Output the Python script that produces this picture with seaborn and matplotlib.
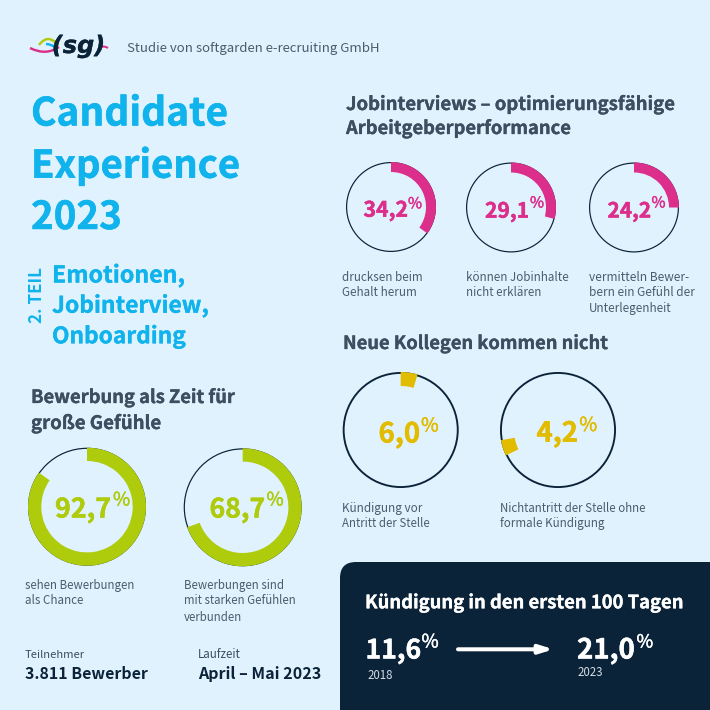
import matplotlib
matplotlib.use("Agg")
import matplotlib.pyplot as plt
import matplotlib.patheffects as pe
import seaborn as sns
from matplotlib.patches import Circle, FancyBboxPatch, PathPatch
from matplotlib.path import Path

BG = "#E0F2FE"; NAVY = "#0B2338"; CYAN = "#10B3EC"; PINK = "#DC2F8C"
YELLOW = "#E2BC00"; GREEN = "#AECB0C"; HEAD = "#3C4E5F"; BODY = "#4D5C6B"

sns.set_theme(style="white", rc={"figure.facecolor": BG, "axes.facecolor": BG})
plt.rcParams["font.family"] = ["Noto Sans CJK SC", "DejaVu Sans"]

# share of the ring as drawn in the picture (percent), start angle clockwise from top
green_labels = ["92,7", "68,7"]
green_arcs = [84.8, 69.5]
pink_labels = ["34,2", "29,1", "24,2"]
pink_arcs = [35.0, 29.1, 25.0]
yellow_labels = ["6,0", "4,2"]
yellow_arcs = [4.7, 4.4]
yellow_starts = [0, 244]

fig = plt.figure(figsize=(7.1, 7.1), dpi=100)
main = fig.add_axes([0, 0, 1, 1])
main.set_xlim(0, 710); main.set_ylim(710, 0); main.axis("off")
rend = fig.canvas.get_renderer()


def T(x, y, s, px, color=BODY, weight="normal", right=None, stroke=None, **kw):
    t = main.text(x, y, s, fontsize=px * 0.72, color=color, weight=weight,
                  va=kw.pop("va", "baseline"), ha=kw.pop("ha", "left"), **kw)
    if right is not None:
        w = t.get_window_extent(rend).width
        t.set_fontsize(t.get_fontsize() * (right - x) / w)
    if stroke is None and weight == "bold":
        stroke = 0.2
    if stroke:
        t.set_path_effects([pe.withStroke(linewidth=stroke, foreground=color)])
    return t


def donut(cx, cy, R, ring, arc, color, start=0, lw=1.2):
    ax = fig.add_axes([(cx - R) / 710, 1 - (cy + R) / 710, 2 * R / 710, 2 * R / 710])
    ax.add_patch(Circle((0, 0), 1 - lw / 2 / R, fill=False, ec=NAVY, lw=lw * 0.72,
                        clip_on=False, zorder=1))
    wedges, _ = ax.pie([arc, 100 - arc], colors=[color, "none"], radius=1,
                       startangle=90 - start, counterclock=False,
                       wedgeprops=dict(width=ring / R, linewidth=0))
    for w in wedges:
        w.set_zorder(2); w.set_clip_on(False)
    ax.set_xlim(-1, 1); ax.set_ylim(-1, 1); ax.axis("off"); ax.patch.set_alpha(0)


def pct(x0, x1, base, label, color, px, px0, px1, pbase, ppx):
    T(x0, base, label, px, color, "bold", right=x1 + 1, stroke=0.35)
    T(px0, pbase, "%", ppx, color, "normal", right=px1, stroke=0.3)


# header
T(127, 52, "Studie von softgarden e-recruiting GmbH", 13, BODY, right=380)
for (p0, p1, p2), c, lw in [(((30, 48), (46, 56), (59, 47)), PINK, 2.4),
                            (((99, 47), (104, 45.5), (108, 48)), PINK, 2),
                            (((39, 45), (48, 33), (58, 45)), GREEN, 2.4),
                            (((46, 44), (51, 44), (57, 48)), CYAN, 2.4)]:
    main.add_patch(PathPatch(Path([p0, p1, p2], [Path.MOVETO, Path.CURVE3, Path.CURVE3]),
                             fill=False, ec=c, lw=lw * 0.72))
T(78.5, 46, "(sg)", 24, NAVY, "bold", ha="center", va="center", style="italic",
  family=["DejaVu Sans"])

# title
T(31, 125.5, "Candidate", 38, CYAN, "bold", right=228, stroke=0.35)
T(31, 177.7, "Experience", 38, CYAN, "bold", right=240, stroke=0.35)
T(31, 229, "2023", 38, CYAN, "bold", right=122, stroke=0.35)
T(37, 295, "2. TEIL", 17, CYAN, "bold", rotation=90, ha="center", va="center", stroke=0)
T(52, 282.5, "Emotionen,", 23, CYAN, "bold", right=185)
T(52, 312.7, "Jobinterview,", 23, CYAN, "bold", right=209)
T(52, 343.3, "Onboarding", 23, CYAN, "bold", right=186)

# left block
T(31, 403, "Bewerbung als Zeit für", 19, HEAD, "bold", right=235)
T(31, 429, "große Gefühle", 19, HEAD, "bold", right=161)
donut(87, 506.7, 59, 13.3, green_arcs[0], GREEN)
donut(242.7, 507.3, 59, 13.3, green_arcs[1], GREEN)
pct(55, 110, 517.5, green_labels[0], GREEN, 30, 113, 130, 505.5, 17)
pct(209.5, 264, 517.5, green_labels[1], GREEN, 30, 266.5, 283.5, 505.5, 17)
T(25, 589, "sehen Bewerbungen", 12.5, BODY, right=134)
T(25, 604, "als Chance", 12.5, BODY, right=83)
T(184, 589, "Bewerbungen sind", 12.5, BODY, right=284)
T(184, 604, "mit starken Gefühlen", 12.5, BODY, right=296)
T(184, 621, "verbunden", 12.5, BODY, right=242)
T(25, 658, "Teilnehmer", 12.5, HEAD, right=85)
T(25, 679, "3.811 Bewerber", 17, NAVY, "bold", right=148, stroke=0)
T(198, 658, "Laufzeit", 12.5, HEAD, right=241)
T(198, 679, "April – Mai 2023", 17, NAVY, "bold", right=321, stroke=0)

# pink block
T(346, 110, "Jobinterviews – optimierungsfähige", 19, HEAD, "bold", right=675)
T(346, 134, "Arbeitgeberperformance", 19, HEAD, "bold", right=571)
for cx, cy, a, lab, x0, x1, p0, p1, b, pb in zip([391, 511, 634], [207, 207.5, 207.5], pink_arcs,
                                                  pink_labels, [363.5, 485, 607.5], [407, 528, 650],
                                                  [408, 530, 651.5], [422, 544, 665.5],
                                                  [216.7, 217.7, 217.5], [208.3, 207.5, 207.5]):
    donut(cx, cy, 45, 10, a, PINK)
    pct(x0, x1, b, lab, PINK, 25, p0, p1, pb, 14)
T(342, 281, "drucksen beim", 12.5, BODY, right=422)
T(342, 296, "Gehalt herum", 12.5, BODY, right=416)
T(466, 281, "können Jobinhalte", 12.5, BODY, right=568)
T(466, 296, "nicht erklären", 12.5, BODY, right=541)
T(589, 281, "vermitteln Bewer-", 12.5, BODY, right=689)
T(589, 296, "bern ein Gefühl der", 12.5, BODY, right=694)
T(589, 312, "Unterlegenheit", 12.5, BODY, right=671)

# yellow block
T(343, 349, "Neue Kollegen kommen nicht", 19, HEAD, "bold", right=608)
donut(400.7, 430, 58, 14, yellow_arcs[0], YELLOW, yellow_starts[0], lw=1.9)
donut(558, 430, 58, 14, yellow_arcs[1], YELLOW, yellow_starts[1], lw=1.9)
pct(378.5, 419, 442.5, yellow_labels[0], YELLOW, 29, 421, 438.5, 431.5, 17)
pct(536.5, 577, 441.7, yellow_labels[1], YELLOW, 29, 579.3, 597, 431, 17)
T(342, 512, "Kündigung vor", 12.5, BODY, right=422)
T(342, 527, "Antritt der Stelle", 12.5, BODY, right=430)
T(500, 512, "Nichtantritt der Stelle ohne", 12.5, BODY, right=646)
T(500, 527, "formale Kündigung", 12.5, BODY, right=604)

# panel
main.add_patch(FancyBboxPatch((356, 578), 400, 200, boxstyle="round,pad=16,rounding_size=16",
                              fc=NAVY, ec="none"))
T(365, 608.3, "Kündigung in den ersten 100 Tagen", 19, "white", "bold", right=684)
pct(365.5, 420, 658.5, "11,6", "white", 31, 421.5, 438.5, 647.5, 17)
pct(577, 634, 658.5, "21,0", "white", 31, 636.5, 653, 647.5, 17)
T(367, 679, "2018", 11.5, "#D5DCE3", right=392.5)
T(577, 675.7, "2023", 11.5, "#D5DCE3", right=602.5)
main.annotate("", xy=(553.5, 649.3), xytext=(458, 649.3),
              arrowprops=dict(arrowstyle="-|>,head_length=0.8,head_width=0.25", color="white",
                              lw=2.9, shrinkA=0, shrinkB=0, mutation_scale=10))

fig.savefig("out.png", dpi=100, facecolor=BG)
